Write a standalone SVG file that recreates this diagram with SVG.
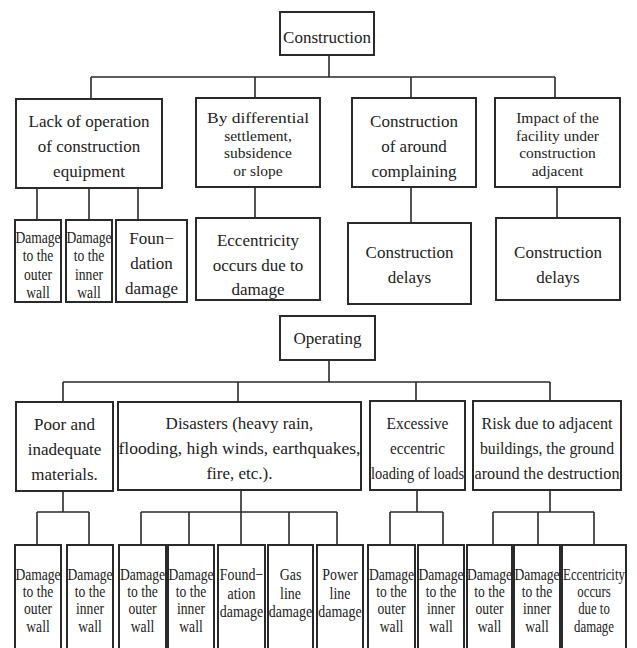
<svg xmlns="http://www.w3.org/2000/svg" width="637" height="648" viewBox="0 0 637 648">
<style>
rect{fill:#fff;stroke:#2a2a2a;stroke-width:2}
#connectors path{fill:none;stroke:#2a2a2a;stroke-width:1.6}
text{font-family:'Liberation Serif','DejaVu Serif',serif;font-size:17px;fill:#222;text-anchor:middle}
.t{font-size:15.5px}
</style>
<rect x="0" y="0" width="637" height="648" style="fill:#fff;stroke:none"/>
<g id="connectors">
<path d="M329,55V77M91,77H555M91,77V99M255,77V98M411,77V98M555,77V98"/>
<path d="M37,188V220M89,188V220M138,188V220"/>
<path d="M255,187V218M411,187V223M557,187V218"/>
<path d="M329,360V382M63,382H550M63,382V402M238,382V402M416,382V401M550,382V401"/>
<path d="M63,491V512M37,512H89M37,512V545M89,512V545"/>
<path d="M241,490V545M141,512H337M141,512V545M189,512V545M289,512V545M337,512V545"/>
<path d="M417,490V512M390,512H443M390,512V545M443,512V545"/>
<path d="M550,490V512M493,512H594M493,512V545M538,512V545M594,512V545"/>
</g>
<g id="n-construction"><rect x="280" y="12" width="94" height="43"/><text x="327" y="43">Construction</text></g>
<g id="n-lack"><rect x="16" y="99" width="146" height="89"/><text x="89" y="127">Lack of operation</text><text x="89" y="152">of construction</text><text x="89" y="177">equipment</text></g>
<g id="n-differential"><rect x="196" y="98" width="124" height="89"/><text class="t" x="258" y="123" textLength="102" lengthAdjust="spacingAndGlyphs">By differential</text><text class="t" x="258" y="140.5">settlement,</text><text class="t" x="258" y="158">subsidence</text><text class="t" x="258" y="175.5">or slope</text></g>
<g id="n-around"><rect x="352" y="98" width="124" height="89"/><text x="414" y="127">Construction</text><text x="414" y="152">of around</text><text x="414" y="177">complaining</text></g>
<g id="n-impact"><rect x="495" y="98" width="125" height="89"/><text class="t" x="557.5" y="123">Impact of the</text><text class="t" x="557.5" y="140.5">facility under</text><text class="t" x="557.5" y="158">construction</text><text class="t" x="557.5" y="175.5">adjacent</text></g>
<g id="n-c-outer"><rect x="15" y="220" width="46" height="82"/><text transform="translate(38 0) scale(0.8 1)"><tspan x="0" y="243">Damage</tspan><tspan x="0" y="261.5">to the</tspan><tspan x="0" y="280">outer</tspan><tspan x="0" y="298">wall</tspan></text></g>
<g id="n-c-inner"><rect x="66" y="220" width="46" height="82"/><text transform="translate(89 0) scale(0.8 1)"><tspan x="0" y="243">Damage</tspan><tspan x="0" y="261.5">to the</tspan><tspan x="0" y="280">inner</tspan><tspan x="0" y="298">wall</tspan></text></g>
<g id="n-c-found"><rect x="116" y="220" width="71" height="82"/><text x="151.5" y="244">Foun−</text><text x="151.5" y="269">dation</text><text x="151.5" y="294">damage</text></g>
<g id="n-c-ecc"><rect x="196" y="218" width="124" height="82"/><text x="258" y="246">Eccentricity</text><text x="258" y="271">occurs due to</text><text x="258" y="295">damage</text></g>
<g id="n-c-delay1"><rect x="348" y="223" width="123" height="81"/><text x="409.5" y="258">Construction</text><text x="409.5" y="283">delays</text></g>
<g id="n-c-delay2"><rect x="496" y="218" width="124" height="82"/><text x="558" y="258">Construction</text><text x="558" y="283">delays</text></g>
<g id="n-operating"><rect x="280" y="316" width="95" height="44"/><text x="327.5" y="344">Operating</text></g>
<g id="n-poor"><rect x="16" y="402" width="97" height="89"/><text x="64.5" y="430">Poor and</text><text x="64.5" y="455">inadequate</text><text x="64.5" y="480">materials.</text></g>
<g id="n-disasters"><rect x="118" y="402" width="243" height="88"/><text x="239.5" y="429">Disasters (heavy rain,</text><text x="239.5" y="454" textLength="242" lengthAdjust="spacingAndGlyphs">flooding, high winds, earthquakes,</text><text x="239.5" y="479">fire, etc.).</text></g>
<g id="n-excessive"><rect x="370" y="401" width="95" height="89"/><text x="417.5" y="429" textLength="62" lengthAdjust="spacingAndGlyphs">Excessive</text><text x="417.5" y="454" textLength="55" lengthAdjust="spacingAndGlyphs">eccentric</text><text x="417.5" y="479" textLength="93" lengthAdjust="spacingAndGlyphs">loading of loads</text></g>
<g id="n-risk"><rect x="473" y="401" width="148" height="89"/><text x="547" y="429" textLength="131" lengthAdjust="spacingAndGlyphs">Risk due to adjacent</text><text x="547" y="454" textLength="134" lengthAdjust="spacingAndGlyphs">buildings, the ground</text><text x="547" y="479" textLength="145" lengthAdjust="spacingAndGlyphs">around the destruction</text></g>
<g id="n-o-outer1"><rect x="15" y="545" width="46" height="110"/><text transform="translate(38 0) scale(0.8 1)"><tspan x="0" y="580">Damage</tspan><tspan x="0" y="597.5">to the</tspan><tspan x="0" y="614.5">outer</tspan><tspan x="0" y="632.5">wall</tspan></text></g>
<g id="n-o-inner1"><rect x="67" y="545" width="46" height="110"/><text transform="translate(90 0) scale(0.8 1)"><tspan x="0" y="580">Damage</tspan><tspan x="0" y="597.5">to the</tspan><tspan x="0" y="614.5">inner</tspan><tspan x="0" y="632.5">wall</tspan></text></g>
<g id="n-o-outer2"><rect x="119" y="545" width="47" height="110"/><text transform="translate(142.5 0) scale(0.8 1)"><tspan x="0" y="580">Damage</tspan><tspan x="0" y="597.5">to the</tspan><tspan x="0" y="614.5">outer</tspan><tspan x="0" y="632.5">wall</tspan></text></g>
<g id="n-o-inner2"><rect x="168" y="545" width="46" height="110"/><text transform="translate(191 0) scale(0.8 1)"><tspan x="0" y="580">Damage</tspan><tspan x="0" y="597.5">to the</tspan><tspan x="0" y="614.5">inner</tspan><tspan x="0" y="632.5">wall</tspan></text></g>
<g id="n-o-found"><rect x="218" y="545" width="47" height="110"/><text transform="translate(241.5 0) scale(0.82 1)"><tspan x="0" y="580">Found−</tspan><tspan x="0" y="599">ation</tspan><tspan x="0" y="617.5">damage</tspan></text></g>
<g id="n-o-gas"><rect x="268" y="545" width="45" height="110"/><text transform="translate(290.5 0) scale(0.82 1)"><tspan x="0" y="580">Gas</tspan><tspan x="0" y="599">line</tspan><tspan x="0" y="617.5">damage</tspan></text></g>
<g id="n-o-power"><rect x="317" y="545" width="46" height="110"/><text transform="translate(340 0) scale(0.82 1)"><tspan x="0" y="580">Power</tspan><tspan x="0" y="599">line</tspan><tspan x="0" y="617.5">damage</tspan></text></g>
<g id="n-o-outer3"><rect x="368" y="545" width="47" height="110"/><text transform="translate(391.5 0) scale(0.8 1)"><tspan x="0" y="580">Damage</tspan><tspan x="0" y="597.5">to the</tspan><tspan x="0" y="614.5">outer</tspan><tspan x="0" y="632.5">wall</tspan></text></g>
<g id="n-o-inner3"><rect x="418" y="545" width="46" height="110"/><text transform="translate(441 0) scale(0.8 1)"><tspan x="0" y="580">Damage</tspan><tspan x="0" y="597.5">to the</tspan><tspan x="0" y="614.5">inner</tspan><tspan x="0" y="632.5">wall</tspan></text></g>
<g id="n-o-outer4"><rect x="467" y="545" width="45" height="110"/><text transform="translate(489.5 0) scale(0.8 1)"><tspan x="0" y="580">Damage</tspan><tspan x="0" y="597.5">to the</tspan><tspan x="0" y="614.5">outer</tspan><tspan x="0" y="632.5">wall</tspan></text></g>
<g id="n-o-inner4"><rect x="514" y="545" width="46" height="110"/><text transform="translate(537 0) scale(0.8 1)"><tspan x="0" y="580">Damage</tspan><tspan x="0" y="597.5">to the</tspan><tspan x="0" y="614.5">inner</tspan><tspan x="0" y="632.5">wall</tspan></text></g>
<g id="n-o-ecc"><rect x="562" y="545" width="64" height="110"/><text style="font-size:16px" transform="translate(594 0) scale(0.8 1)"><tspan x="0" y="580">Eccentricity</tspan><tspan x="0" y="597.5">occurs</tspan><tspan x="0" y="614.5">due to</tspan><tspan x="0" y="632.5">damage</tspan></text></g>
</svg>
